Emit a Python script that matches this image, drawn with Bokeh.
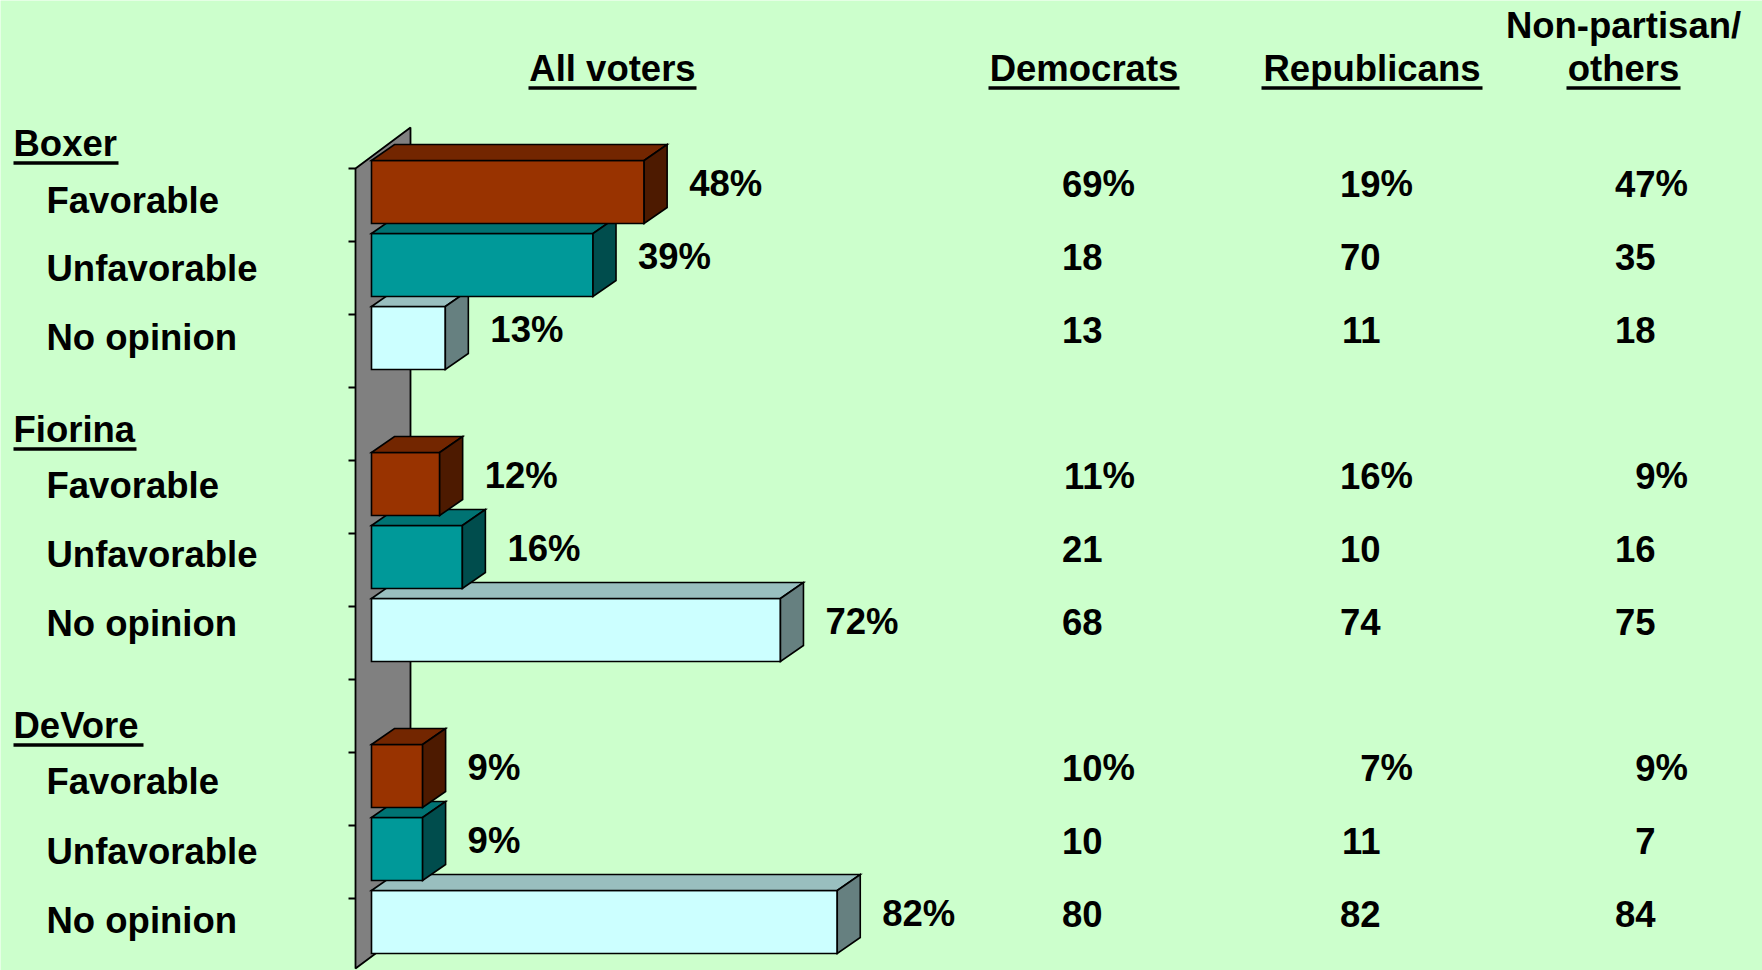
from bokeh.plotting import figure
from bokeh.models import Range1d
from bokeh.core.properties import value
from bokeh.embed import file_html
from bokeh.resources import INLINE

# ---------------- data ----------------
candidates = ["Boxer", "Fiorina", "DeVore"]
responses = ["Favorable", "Unfavorable", "No opinion"]
all_voters = [48, 39, 13, 12, 16, 72, 9, 9, 82]
democrats = [69, 18, 13, 11, 21, 68, 10, 10, 80]
republicans = [19, 70, 11, 16, 10, 74, 7, 11, 82]
nonpartisan = [47, 35, 18, 9, 16, 75, 9, 7, 84]
column_headers = ["All voters", "Democrats", "Republicans", "others"]

# ---------------- styles / layout ----------------
BG = "#CCFFCC"
FRONT = ["#993300", "#009999", "#CCFFFF"]
TOP = ["#732600", "#007373", "#99BFBF"]
SIDE = ["#4D1A00", "#004D4D", "#668080"]
WALL = "#808080"
FONT = value("Liberation Sans")
FS = "36.5px"

W, H = 1762, 970
PX_PER_PCT = 5.68
PX_PER_SLOT = 73.0
ZERO_PX = 371.0
SLOT0_PX = 191.5
HALF = 31.5 / PX_PER_SLOT          # half bar height (slot units)
DX = 23.0 / PX_PER_PCT             # 3D depth in x (pct units)
DY = 16.0 / PX_PER_SLOT            # 3D depth in y (slot units)
LABEL_GAP = 22.0 / PX_PER_PCT
TXT_SHIFT = -12.0                  # renderer baseline correction (px)
BASE_OFF = (3.5 + TXT_SHIFT) / PX_PER_SLOT

x0 = (0 - ZERO_PX) / PX_PER_PCT
x1 = (W - ZERO_PX) / PX_PER_PCT
y_top = (0 - SLOT0_PX) / PX_PER_SLOT
y_bot = (H - SLOT0_PX) / PX_PER_SLOT

p = figure(width=W, height=H, x_range=Range1d(x0, x1), y_range=Range1d(y_bot, y_top),
           output_backend="svg", toolbar_location=None, min_border=0,
           x_axis_type=None, y_axis_type=None,
           background_fill_color=BG, border_fill_color=BG, outline_line_color=None)
p.grid.visible = False
p.extra_x_ranges = {"px": Range1d(0, W)}
p.extra_y_ranges = {"px": Range1d(H, 0)}

# ---------------- back wall ----------------
wall_l, wall_r = 355, 410
wall_top_l, wall_top_r = 168, 127
wall_bot_l = 968
p.patch([wall_l, wall_r, wall_r, wall_l],
        [wall_top_l, wall_top_r, wall_bot_l - (wall_top_l - wall_top_r), wall_bot_l],
        fill_color=WALL, line_color="black", line_width=1.8,
        x_range_name="px", y_range_name="px")

# tick marks on the category axis (slot boundaries)
n_slots = 4 * len(candidates) - 1
tick_y = [wall_top_l + PX_PER_SLOT * k for k in range(n_slots)]
p.segment(x0=[348] * len(tick_y), y0=tick_y, x1=[wall_l] * len(tick_y), y1=tick_y,
          line_color="black", line_width=2, x_range_name="px", y_range_name="px")

# ---------------- 3D bars ----------------
slots = [4 * g + r for g in range(len(candidates)) for r in range(len(responses))]
kinds = [r for g in range(len(candidates)) for r in range(len(responses))]

xs, ys, cols = [], [], []
for i in sorted(range(len(all_voters)), key=lambda j: -slots[j]):
    v, k, c = all_voters[i], slots[i], kinds[i]
    t, b = k - HALF, k + HALF
    xs.append([0, v, v, 0]); ys.append([t, t, b, b]); cols.append(FRONT[c])
    xs.append([0, DX, v + DX, v]); ys.append([t, t - DY, t - DY, t]); cols.append(TOP[c])
    xs.append([v, v + DX, v + DX, v]); ys.append([t, t - DY, b - DY, b]); cols.append(SIDE[c])
p.patches(xs, ys, fill_color=cols, line_color="black", line_width=1.6, line_join="miter")

TXT = dict(text_font=FONT, text_font_style="bold", text_font_size=FS,
           text_baseline="alphabetic", text_color="black")

# value labels next to bars
p.text(x=[v + DX + LABEL_GAP for v in all_voters], y=[k + BASE_OFF for k in slots],
       text=[f"{v}%" for v in all_voters], text_align="left", **TXT)

# ---------------- crosstab columns ----------------
col_anchor = [1102, 1380, 1655]
for anchor, vals in zip(col_anchor, [democrats, republicans, nonpartisan]):
    p.text(x=[anchor] * len(vals), y=[k + BASE_OFF for k in slots],
           text=[str(v) for v in vals], text_align="right", x_range_name="px", **TXT)
    pct_slots = [k for k, c in zip(slots, kinds) if c == 0]
    p.text(x=[anchor] * len(pct_slots), y=[k + BASE_OFF for k in pct_slots],
           text=["%"] * len(pct_slots), text_align="left", x_range_name="px", **TXT)

# ---------------- headers ----------------
hdr_span = [(528, 696), (988, 1179), (1261, 1482), (1566, 1680)]
hdr_base = 80
p.text(x=[(a + b) / 2 for a, b in hdr_span], y=[hdr_base + TXT_SHIFT] * 4, text=column_headers,
       text_align="center", x_range_name="px", y_range_name="px", **TXT)
p.text(x=[1623], y=[37 + TXT_SHIFT], text=["Non-partisan/"], text_align="center",
       x_range_name="px", y_range_name="px", **TXT)
p.segment(x0=[a for a, b in hdr_span], x1=[b for a, b in hdr_span],
          y0=[hdr_base + 7.5] * 4, y1=[hdr_base + 7.5] * 4,
          line_color="black", line_width=3.5, x_range_name="px", y_range_name="px")

# ---------------- row labels ----------------
title_base = [155, 441, 737]
title_span = [(13, 118), (13, 136), (13, 143)]
item_base = [[212, 280, 349], [497, 566, 635], [793, 863, 932]]
p.text(x=[13] * 3, y=[t + TXT_SHIFT for t in title_base], text=candidates,
       text_align="left", x_range_name="px", y_range_name="px", **TXT)
p.segment(x0=[a for a, b in title_span], x1=[b for a, b in title_span],
          y0=[t + 7.5 for t in title_base], y1=[t + 7.5 for t in title_base],
          line_color="black", line_width=3.5, x_range_name="px", y_range_name="px")
for g in range(len(candidates)):
    p.text(x=[46] * 3, y=[t + TXT_SHIFT for t in item_base[g]], text=responses,
           text_align="left", x_range_name="px", y_range_name="px", **TXT)

open("out.html", "w").write(file_html(p, INLINE))
